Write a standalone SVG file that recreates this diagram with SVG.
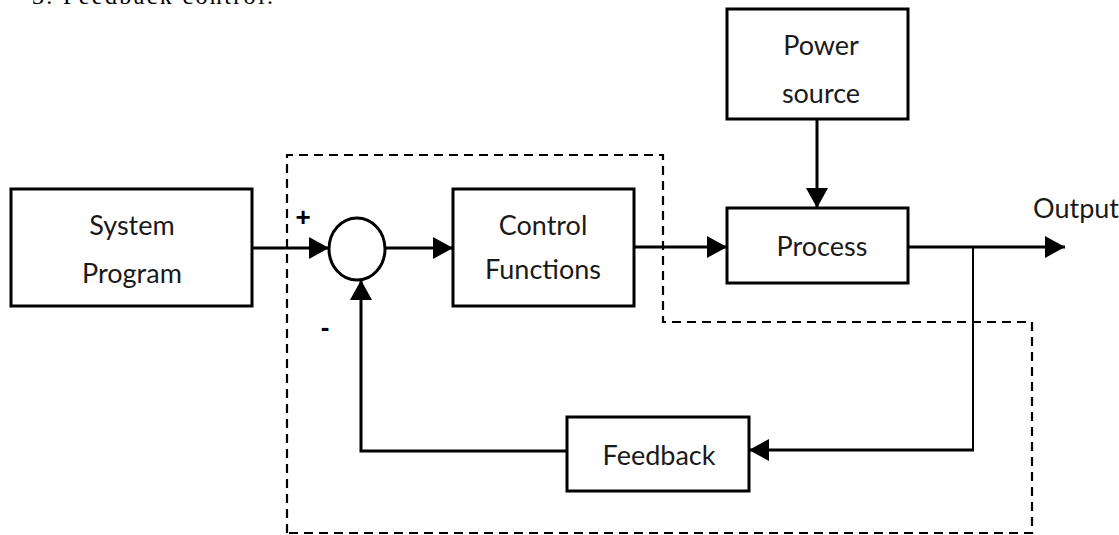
<svg xmlns="http://www.w3.org/2000/svg" width="1119" height="535" viewBox="0 0 1119 535">
<defs>
<style>
.box{fill:#fff;stroke:#000;stroke-width:3}
.lbl{font-family:Lato,"Open Sans",sans-serif;font-size:27px;fill:#1a1a1a;text-anchor:middle}
.ln{fill:none;stroke:#000;stroke-width:3}
.thin{fill:none;stroke:#000;stroke-width:2}
.dash{fill:none;stroke:#000;stroke-width:2.2;stroke-dasharray:9 6}
</style>
<marker id="ah" viewBox="0 0 20 22" refX="20" refY="11" markerWidth="20" markerHeight="22" markerUnits="userSpaceOnUse" orient="auto">
<path d="M0,0 L20,11 L0,22 Z" fill="#000"/>
</marker>
</defs>
<rect width="1119" height="535" fill="#fff"/>
<text x="32" y="4" font-family="Liberation Serif,serif" font-size="24" textLength="241" fill="#000">3. Feedback control.</text>
<g id="boundary">
<path class="dash" d="M287,533 L287,155 L663,155 L663,322 L1032,322 L1032,533 Z"/>
</g>
<g id="connectors">
<line class="ln" x1="252" y1="248" x2="329" y2="248" marker-end="url(#ah)"/>
<line class="ln" x1="385" y1="248" x2="453" y2="248" marker-end="url(#ah)"/>
<line class="ln" x1="634" y1="247" x2="727" y2="247" marker-end="url(#ah)"/>
<line class="ln" x1="817" y1="119" x2="817" y2="208" marker-end="url(#ah)"/>
<line class="ln" x1="908" y1="247" x2="1065" y2="247" marker-end="url(#ah)"/>
<line class="thin" x1="973" y1="247" x2="973" y2="450"/>
<line class="ln" x1="974" y1="450" x2="749" y2="450" marker-end="url(#ah)"/>
<polyline class="ln" points="567,451 361,451 361,280" marker-end="url(#ah)"/>
</g>
<g id="system-program">
<rect class="box" x="11" y="189" width="241" height="117"/>
<text class="lbl" x="132" y="235">System</text>
<text class="lbl" x="132" y="283">Program</text>
</g>
<g id="sum">
<ellipse class="box" cx="357" cy="249" rx="28" ry="31" stroke-width="2.5"/>
<text x="303" y="226" font-family="Liberation Sans,sans-serif" font-weight="bold" font-size="26" text-anchor="middle">+</text>
<text x="325" y="336" font-family="Liberation Sans,sans-serif" font-weight="bold" font-size="26" text-anchor="middle">-</text>
</g>
<g id="control-functions">
<rect class="box" x="453" y="189" width="181" height="117"/>
<text class="lbl" x="543" y="235">Control</text>
<text class="lbl" x="543" y="279">Functions</text>
</g>
<g id="power-source">
<rect class="box" x="727" y="9" width="181" height="110"/>
<text class="lbl" x="821" y="55">Power</text>
<text class="lbl" x="821" y="103">source</text>
</g>
<g id="process">
<rect class="box" x="727" y="208" width="181" height="75"/>
<text class="lbl" x="822" y="256">Process</text>
</g>
<g id="output">
<text x="1033" y="218" font-family="Lato,'Open Sans',sans-serif" font-size="27" fill="#1a1a1a">Output</text>
</g>
<g id="feedback">
<rect class="box" x="567" y="417" width="182" height="74"/>
<text class="lbl" x="659" y="465">Feedback</text>
</g>
</svg>
